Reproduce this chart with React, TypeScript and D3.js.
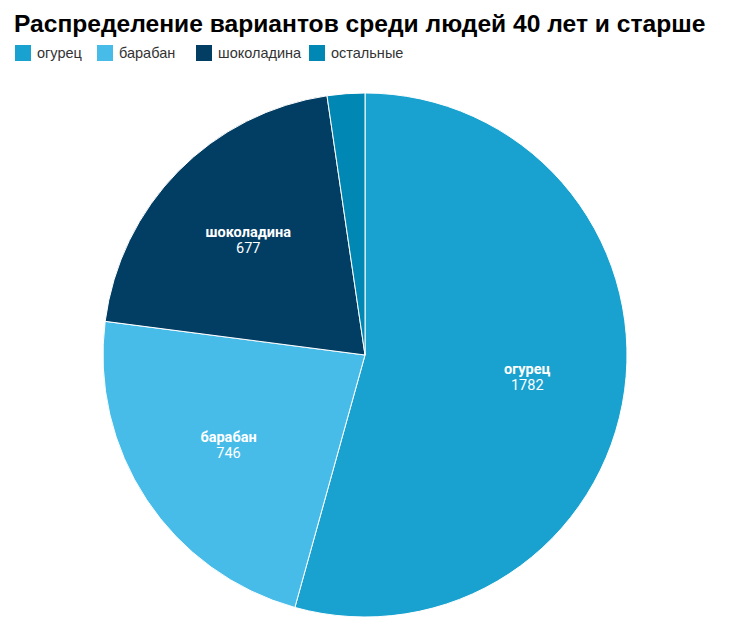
import React from "react";
import * as d3 from "d3";

const categories = ["огурец", "барабан", "шоколадина", "остальные"];
const values = [1782, 746, 677, 76];
const colors = ["#19a2cf", "#48bce9", "#023d63", "#0087b4"];
const showLabel = [true, true, true, false];

export default function App() {
  const width = 742;
  const height = 640;
  const cx = 365;
  const cy = 355;
  const r = 262;
  const pie = d3.pie<number>().sort(null).value((d) => d)(values);
  const arc = d3.arc<d3.PieArcDatum<number>>().innerRadius(0).outerRadius(r);
  const font = "Roboto, 'Noto Sans', sans-serif";
  const legendXs = [15, 97, 196, 309];
  return (
    <svg width={width} height={height} style={{ position: "absolute", left: 0, top: 0, fontFamily: font }}>
      <rect width={width} height={height} fill="#fff" />
      <text x={14} y={32} fontSize={24.6} fontWeight="bold" fill="#000" fontFamily="'Liberation Sans', Arial, sans-serif">
        Распределение вариантов среди людей 40 лет и старше
      </text>
      <g>
        {categories.map((c, i) => (
          <g key={c} transform={`translate(${legendXs[i]},45)`}>
            <rect width={16} height={16} fill={colors[i]} />
            <text x={22} y={13} fontSize={14.5} fill="#333" fontFamily="'Liberation Sans', Arial, sans-serif">
              {c}
            </text>
          </g>
        ))}
      </g>
      <g transform={`translate(${cx},${cy})`}>
        {pie.map((p, i) => (
          <path key={i} d={arc(p) || ""} fill={colors[i]} stroke="#fff" strokeWidth={1} />
        ))}
        {pie.map((p, i) => {
          if (!showLabel[i]) return null;
          const mid = (p.startAngle + p.endAngle) / 2;
          const lr = r * 0.625;
          const x = Math.sin(mid) * lr;
          const y = -Math.cos(mid) * lr;
          return (
            <text key={"l" + i} x={x} y={y} textAnchor="middle" fill="#fff" fontSize={14.5}>
              <tspan x={x} dy={-3} fontWeight="bold">{categories[i]}</tspan>
              <tspan x={x} dy={16}>{values[i]}</tspan>
            </text>
          );
        })}
      </g>
    </svg>
  );
}
